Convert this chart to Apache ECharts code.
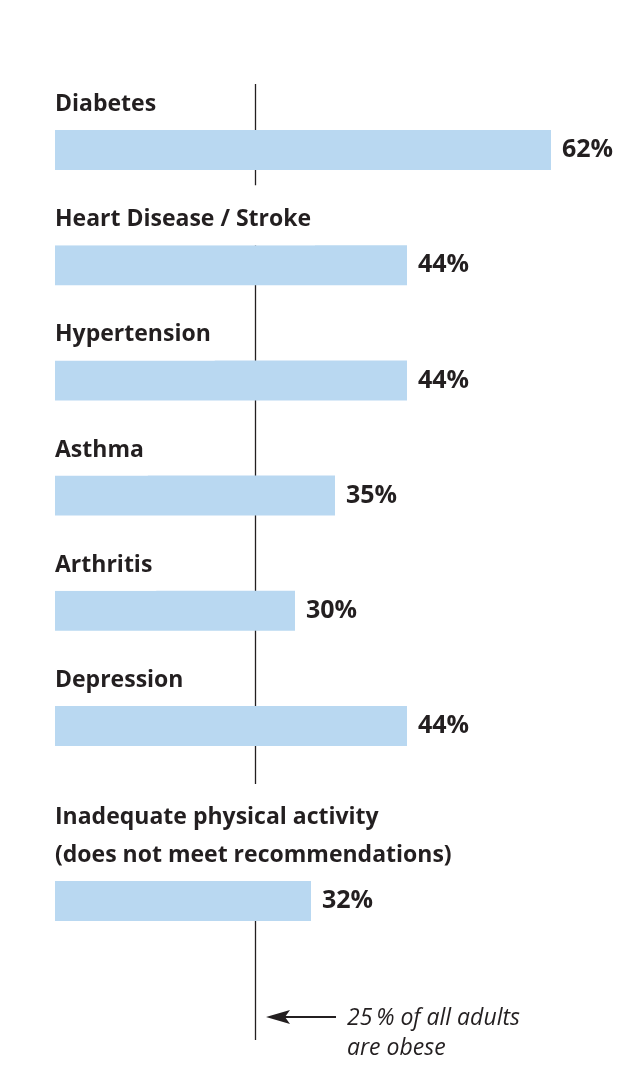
<!DOCTYPE html>
<html>
<head>
<meta charset="utf-8">
<script src="https://cdn.jsdelivr.net/npm/echarts@6/dist/echarts.min.js"></script>
<style>
  html, body { margin: 0; padding: 0; background: #fff; }
  #chart { width: 618px; height: 1070px; }
</style>
</head>
<body>
<div id="chart"></div>
<script>
// conditions among obese adults (share with the condition, %)
var categories = ['Diabetes', 'Heart Disease / Stroke', 'Hypertension', 'Asthma', 'Arthritis', 'Depression'];
var values = [62, 44, 44, 35, 30, 44];

// physical activity block sits apart from the others
var activityCategories = ['Inadequate physical activity\n(does not meet recommendations)'];
var activityValues = [32];

// share of all adults who are obese (reference line)
var obeseShare = 25;
var annotationText = '25\u2009% of all adults\nare obese';

var textColor = '#231f20';
var barColor = '#b9d8f1';
var fontFamily = '"Open Sans", "Noto Sans", sans-serif';

var myChart = echarts.init(document.getElementById('chart'));

var valueLabel = {
    show: true,
    position: 'right',
    distance: 11,
    formatter: '{c}%',
    color: textColor,
    fontFamily: fontFamily,
    fontWeight: 'bold',
    fontSize: 25
};

// name label above each bar, white box hides the reference line behind it
var nameLabel = {
    show: true,
    position: [0, 0],
    align: 'left',
    verticalAlign: 'bottom',
    formatter: '{b}',
    color: textColor,
    fontFamily: fontFamily,
    fontWeight: 'bold',
    fontSize: 23,
    lineHeight: 23,
    backgroundColor: '#fff',
    padding: [23, 4, 14, 0]
};

var activityNameLabel = Object.assign({}, nameLabel, {
    lineHeight: 38,
    padding: [14, 4, 7, 0]
});

var xAxisBase = { type: 'value', min: 0, max: 70, show: false };

var option = {
    backgroundColor: '#fff',
    animation: false,
    grid: [
        { left: 55, width: 560, top: 92.4, height: 691.2 },
        { left: 55, width: 560, top: 881, height: 40 },
        { left: 55, width: 560, top: 84, height: 956 }
    ],
    xAxis: [
        Object.assign({ gridIndex: 0 }, xAxisBase),
        Object.assign({ gridIndex: 1 }, xAxisBase),
        Object.assign({ gridIndex: 2 }, xAxisBase)
    ],
    yAxis: [
        { gridIndex: 0, type: 'category', inverse: true, data: categories, show: false },
        { gridIndex: 1, type: 'category', inverse: true, data: activityCategories, show: false },
        { gridIndex: 2, type: 'value', min: 0, max: 1, show: false }
    ],
    series: [
        {
            // reference line at 25 %
            type: 'line',
            xAxisIndex: 2,
            yAxisIndex: 2,
            z: 1,
            data: [],
            markLine: {
                z: 1,
                silent: true,
                symbol: 'none',
                label: { show: false },
                lineStyle: { color: textColor, width: 1.3, type: 'solid' },
                data: [{ xAxis: obeseShare }]
            }
        },
        {
            type: 'bar',
            xAxisIndex: 0,
            yAxisIndex: 0,
            z: 2,
            barWidth: 40,
            itemStyle: { color: barColor },
            label: valueLabel,
            data: values
        },
        {
            type: 'bar',
            xAxisIndex: 0,
            yAxisIndex: 0,
            z: 3,
            barWidth: 40,
            barGap: '-100%',
            itemStyle: { color: 'rgba(0,0,0,0)' },
            label: nameLabel,
            data: values
        },
        {
            type: 'bar',
            xAxisIndex: 1,
            yAxisIndex: 1,
            z: 2,
            barWidth: 40,
            itemStyle: { color: barColor },
            label: valueLabel,
            data: activityValues
        },
        {
            type: 'bar',
            xAxisIndex: 1,
            yAxisIndex: 1,
            z: 3,
            barWidth: 40,
            barGap: '-100%',
            itemStyle: { color: 'rgba(0,0,0,0)' },
            label: activityNameLabel,
            data: activityValues
        }
    ],
    graphic: [
        {
            type: 'line',
            shape: { x1: 336, y1: 1017, x2: 284, y2: 1017 },
            style: { stroke: textColor, lineWidth: 1.8 }
        },
        {
            type: 'polygon',
            shape: { points: [[266, 1017], [290, 1010], [285, 1017], [290, 1024]] },
            style: { fill: textColor }
        },
        {
            type: 'text',
            left: 347,
            top: 1003,
            style: {
                text: annotationText,
                fill: textColor,
                font: 'italic 23px ' + fontFamily,
                lineHeight: 30
            }
        }
    ]
};

myChart.setOption(option);
</script>
</body>
</html>
